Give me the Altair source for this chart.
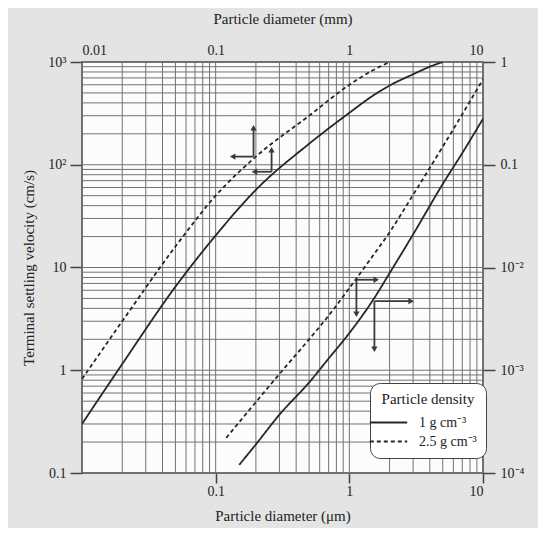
import altair as alt
import pandas as pd

# ---------------- data ----------------
# Upper pair: particle diameter in mm (top axis), velocity in cm/s (left axis)
UP_D_SOLID = [0.01, 0.02, 0.05, 0.1, 0.2, 0.5, 1.0, 1.5, 2.0, 3.0, 4.0, 5.0]
UP_V_SOLID = [0.30, 1.15, 6.5, 20.5, 57, 160, 320, 470, 590, 760, 900, 1000]
UP_D_DASH = [0.01, 0.02, 0.05, 0.1, 0.2, 0.5, 1.0, 1.5, 2.0]
UP_V_DASH = [0.82, 3.0, 16, 50, 120, 300, 600, 830, 1000]

# Lower pair: particle diameter in um (bottom axis), velocity in cm/s (right axis)
LO_D_SOLID = [0.15, 0.2, 0.3, 0.5, 0.7, 1.0, 1.5, 2.0, 3.0, 5.0, 7.0, 10.0]
LO_V_SOLID = [1.2e-4, 1.9e-4, 3.7e-4, 7.6e-4, 1.3e-3, 2.3e-3, 4.8e-3, 8.8e-3,
              2.1e-2, 6.5e-2, 0.13, 0.28]
LO_D_DASH = [0.12, 0.2, 0.3, 0.5, 0.7, 1.0, 1.5, 2.0, 3.0, 5.0, 7.0, 10.0]
LO_V_DASH = [2.2e-4, 4.9e-4, 9.2e-4, 2.0e-3, 3.4e-3, 6.3e-3, 1.3e-2, 2.2e-2,
             5.1e-2, 0.15, 0.31, 0.68]

DENSITIES = ["1 g cm⁻³", "2.5 g cm⁻³"]

# axis tick values and labels
TOP_VALUES = [0.01, 0.1, 1, 10]
BOTTOM_VALUES = [0.1, 1, 10]
LEFT_VALUES = [0.1, 1, 10, 100, 1000]
LEFT_LABELS = ["0.1", "1", "10", "10²", "10³"]
RIGHT_VALUES = [1e-4, 1e-3, 1e-2, 0.1, 1]
RIGHT_LABELS = ["10⁻⁴", "10⁻³", "10⁻²", "0.1", "1"]

# log grid
MANTISSAS = [1, 2, 3, 4, 5, 6, 7, 8, 9]
X_DECADES = [0.01, 0.1, 1]
Y_DECADES = [0.1, 1, 10, 100]

# arrow annotations (data units)
UP_ARROW_SHAFTS = {"x": [0.192, 0.192, 0.262, 0.262], "x2": [0.192, 0.134, 0.262, 0.195],
                   "y": [120, 120, 85.5, 85.5], "y2": [229, 120, 140, 85.5]}
UP_ARROW_HEADS = {"x": [0.192, 0.134, 0.262, 0.195], "y": [229, 120, 140, 85.5],
                  "ang": [0, 270, 0, 270]}
LO_ARROW_SHAFTS = {"x": [1.13, 1.13, 1.54, 1.54], "x2": [1.13, 1.59, 1.54, 2.9],
                   "y": [7.6e-3, 7.6e-3, 4.7e-3, 4.7e-3], "y2": [3.5e-3, 7.6e-3, 1.6e-3, 4.7e-3]}
LO_ARROW_HEADS = {"x": [1.13, 1.59, 1.54, 2.9], "y": [3.5e-3, 7.6e-3, 1.6e-3, 4.7e-3],
                  "ang": [180, 90, 180, 90]}

# ---------------- tables ----------------
def curves(ds, vs, ds2, vs2):
    rows = [{"d": d, "v": v, "density": DENSITIES[0]} for d, v in zip(ds, vs)]
    rows += [{"d": d, "v": v, "density": DENSITIES[1]} for d, v in zip(ds2, vs2)]
    return pd.DataFrame(rows)

up_df = curves(UP_D_SOLID, UP_V_SOLID, UP_D_DASH, UP_V_DASH)
lo_df = curves(LO_D_SOLID, LO_V_SOLID, LO_D_DASH, LO_V_DASH)
xgrid = pd.DataFrame({"g": [m * k for k in X_DECADES for m in MANTISSAS] + [10]})
ygrid = pd.DataFrame({"g": [m * k for k in Y_DECADES for m in MANTISSAS] + [1000]})


def label_expr(values, labels):
    expr = repr(labels[-1])
    for i in range(len(values) - 2, -1, -1):
        thr = (values[i] * values[i + 1]) ** 0.5
        expr = f"datum.value < {thr} ? {labels[i]!r} : ({expr})"
    return expr


W, H = 401, 411
XS = alt.Scale(type="log", domain=[0.01, 10], nice=False)
YU = alt.Scale(type="log", domain=[0.1, 1000], nice=False)
YL = alt.Scale(type="log", domain=[1e-4, 1], nice=False)
INK = "#262626"
GRID = "#727272"
ARROW = "#3a3a3a"
FONT = "Liberation Serif"

dash_scale = alt.Scale(domain=DENSITIES, range=[[1, 0], [4, 3]])
legend = alt.Legend(
    title="Particle density", orient="none", legendX=288, legendY=321,
    symbolType="M-2.2,0H2.2", symbolSize=289, symbolStrokeWidth=1.8,
    symbolStrokeColor=INK, fillColor="white", strokeColor="#444",
    cornerRadius=10, padding=9, titleAnchor="middle", titleFontSize=15,
    titleFontWeight="normal", labelFontSize=14, labelOffset=21, rowPadding=2,
    titlePadding=6, labelColor="#222", titleColor="#222",
)

vgrid = alt.Chart(xgrid).mark_rule(color=GRID, strokeWidth=1).encode(
    x=alt.X("g:Q", scale=XS, axis=None), y=alt.value(0), y2=alt.value(H))
hgrid = alt.Chart(ygrid).mark_rule(color=GRID, strokeWidth=1).encode(
    y=alt.Y("g:Q", scale=YU, axis=None), x=alt.value(0), x2=alt.value(W))

upper = alt.Chart(up_df).mark_line(
    clip=True, color=INK, strokeWidth=1.8, interpolate="monotone").encode(
    x=alt.X("d:Q", scale=XS, axis=alt.Axis(
        orient="top", values=TOP_VALUES, format="~g", title="Particle diameter (mm)",
        ticks=False, domain=False, grid=False, labelPadding=5, titlePadding=17)),
    y=alt.Y("v:Q", scale=YU, axis=alt.Axis(
        orient="left", values=LEFT_VALUES, labelExpr=label_expr(LEFT_VALUES, LEFT_LABELS),
        title="Terminal settling velocity (cm/s)", tickSize=12, labelPadding=4,
        domain=False, grid=False, titlePadding=11)),
    strokeDash=alt.StrokeDash("density:N", scale=dash_scale, legend=legend),
)

lower = alt.Chart(lo_df).mark_line(
    clip=True, color=INK, strokeWidth=1.8, interpolate="monotone").encode(
    x=alt.X("d:Q", scale=XS, axis=alt.Axis(
        orient="bottom", values=BOTTOM_VALUES, format="~g", title="Particle diameter (μm)",
        tickSize=10, labelPadding=1, domain=False, grid=False, titlePadding=10)),
    y=alt.Y("v:Q", scale=YL, axis=alt.Axis(
        orient="right", values=RIGHT_VALUES, labelExpr=label_expr(RIGHT_VALUES, RIGHT_LABELS),
        title=None, tickSize=12, labelPadding=5, domain=False, grid=False)),
    strokeDash=alt.StrokeDash("density:N", scale=dash_scale, legend=legend),
)

up_shafts = alt.Chart(pd.DataFrame(UP_ARROW_SHAFTS)).mark_rule(color=ARROW, strokeWidth=1.8).encode(
    x=alt.X("x:Q", scale=XS, axis=None), x2="x2:Q",
    y=alt.Y("y:Q", scale=YU, axis=None), y2="y2:Q")
up_heads = alt.Chart(pd.DataFrame(UP_ARROW_HEADS)).mark_point(
    shape="triangle-up", filled=True, color=ARROW, size=40, opacity=1).encode(
    x=alt.X("x:Q", scale=XS, axis=None), y=alt.Y("y:Q", scale=YU, axis=None),
    angle=alt.Angle("ang:Q", scale=None))
lo_shafts = alt.Chart(pd.DataFrame(LO_ARROW_SHAFTS)).mark_rule(color=ARROW, strokeWidth=1.8).encode(
    x=alt.X("x:Q", scale=XS, axis=None), x2="x2:Q",
    y=alt.Y("y:Q", scale=YL, axis=None), y2="y2:Q")
lo_heads = alt.Chart(pd.DataFrame(LO_ARROW_HEADS)).mark_point(
    shape="triangle-up", filled=True, color=ARROW, size=40, opacity=1).encode(
    x=alt.X("x:Q", scale=XS, axis=None), y=alt.Y("y:Q", scale=YL, axis=None),
    angle=alt.Angle("ang:Q", scale=None))

chart = alt.layer(
    vgrid, hgrid, upper, lower, up_shafts, up_heads, lo_shafts, lo_heads
).resolve_scale(x="independent", y="independent").properties(
    width=W, height=H,
    autosize=alt.AutoSizeParams(type="none"),
    padding={"left": 74, "top": 54, "right": 55, "bottom": 55},
).configure(
    font=FONT, background="#e4e4e4",
).configure_view(
    fill="#fcfcfc", stroke="#444", strokeWidth=1.5,
).configure_axis(
    labelFont=FONT, titleFont=FONT,
    labelFontSize=14, titleFontSize=15, titleFontWeight="normal",
    labelColor="#222", titleColor="#222", tickColor="#444", tickWidth=1.5,
).configure_legend(
    labelFont=FONT, titleFont=FONT,
)

chart.save("out.html", embed_options={"renderer": "svg", "actions": False})
